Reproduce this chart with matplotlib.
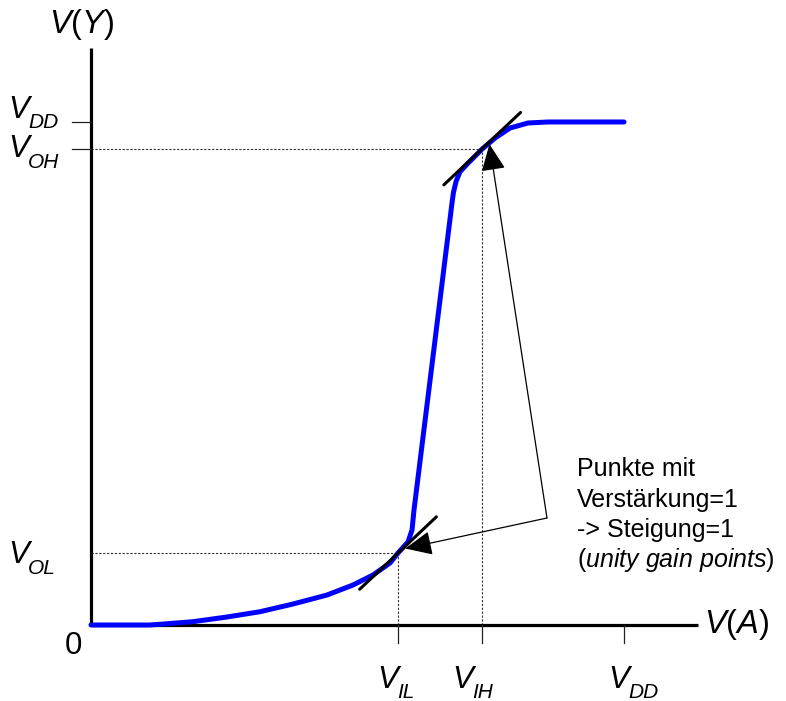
import matplotlib
matplotlib.use('Agg')
import matplotlib.pyplot as plt

plt.rcParams['font.family'] = ['Liberation Sans', 'DejaVu Sans']
plt.rcParams['mathtext.fontset'] = 'custom'
plt.rcParams['mathtext.it'] = 'Liberation Sans:italic'
plt.rcParams['mathtext.rm'] = 'Liberation Sans'

# ---------------- data (normalised voltages, V_DD = 1) ----------------
VDD = 1.0
VIL, VIH = 0.576, 0.734
VOL, VOH = 0.143, 0.947

vin = [0.0, 0.11, 0.1295, 0.1914, 0.2552, 0.3171, 0.3790, 0.4428, 0.4916,
       0.5291, 0.5610, 0.5760, 0.5947, 0.6023, 0.6060, 0.6773, 0.6800,
       0.6850, 0.6923, 0.7073, 0.7336, 0.7580, 0.7861, 0.8199, 0.8574, 1.0]
vout = [0.0, 0.0, 0.0014, 0.0066, 0.0159, 0.0264, 0.0417, 0.0596, 0.0795,
        0.0994, 0.1233, 0.1431, 0.1650, 0.1889, 0.2286, 0.8390, 0.8600,
        0.8820, 0.9010, 0.9180, 0.9460, 0.9680, 0.9880, 0.9980, 1.0, 1.0]

unity_points = [(VIL, VOL), (VIH, VOH)]
tangent_half = 0.072            # half extent of slope-1 tangent segments
note_corner = (0.8555, 0.2127)  # where the two annotation arrows start

x_ticks = [VIL, VIH, VDD]
y_ticks = [VOH, VDD]

# ---------------- figure ----------------
W, H = 786, 701
fig = plt.figure(figsize=(W / 100, H / 100), dpi=100)
ax = fig.add_axes([0, 0, 1, 1])
ax.set_xlim(-0.1707, 1.3039)
ax.set_ylim(-0.1511, 1.2425)
ax.axis('off')

# axes
ax.plot([0, 1.139], [0, 0], color='black', lw=2.3, solid_capstyle='butt', zorder=2)
ax.plot([0, 0], [0, 1.147], color='black', lw=2.3, solid_capstyle='butt', zorder=2)

# tick marks
for xt in x_ticks:
    ax.plot([xt, xt], [0, -0.036], color='#222222', lw=0.9, zorder=2)
for yt in y_ticks:
    ax.plot([-0.036, 0], [yt, yt], color='#222222', lw=0.9, zorder=2)

# dotted guide lines
for (px, py) in unity_points:
    ax.plot([0, px], [py, py], color='#333333', lw=0.8, dashes=(2, 1.5), zorder=1)
    ax.plot([px, px], [0, py], color='#333333', lw=0.8, dashes=(2, 1.5), zorder=1)

# transfer curve
ax.plot(vin, vout, color='#0000ff', lw=3.6, solid_capstyle='round',
        solid_joinstyle='round', zorder=3)

# tangent lines (slope 1)
for (px, py) in unity_points:
    ax.plot([px - tangent_half, px + tangent_half],
            [py - tangent_half, py + tangent_half],
            color='black', lw=2.2, solid_capstyle='round', zorder=4)

# annotation arrows
for (px, py) in unity_points:
    ax.annotate('', xy=(px + 0.0135, py + 0.009), xytext=note_corner,
                arrowprops=dict(arrowstyle='-|>,head_length=0.8,head_width=0.36',
                                mutation_scale=21, lw=0.9, color='black',
                                shrinkA=0, shrinkB=0), zorder=5)

# ---------------- labels ----------------
big = 22.5
small = 15


def fpx(x, y):
    return (x, H - y)


def vlabel(xl, base, sub):
    ax.annotate('V', xy=fpx(xl, base), xycoords='figure pixels',
                fontsize=big, style='italic', ha='left', va='baseline')
    ax.annotate(sub, xy=fpx(xl + 20, base + 10.5), xycoords='figure pixels',
                fontsize=small, style='italic', ha='left', va='baseline')


ax.annotate(r'$V$($Y$)', xy=fpx(49, 33), xycoords='figure pixels',
            fontsize=23.5, ha='left', va='baseline')
ax.annotate(r'$V$($A$)', xy=fpx(704, 633), xycoords='figure pixels',
            fontsize=23.5, ha='left', va='baseline')
ax.annotate('0', xy=fpx(65, 654), xycoords='figure pixels',
            fontsize=big, ha='left', va='baseline')

vlabel(8, 118, 'DD')
vlabel(8, 157, 'OH')
vlabel(8, 563, 'OL')
vlabel(377, 688, 'IL')
vlabel(452, 688, 'IH')
vlabel(608, 688, 'DD')

note_lines = ['Punkte mit', 'Verstärkung=1', '-> Steigung=1',
              r'($\mathit{unity\ gain\ points}$)']
for i, line in enumerate(note_lines):
    ax.annotate(line, xy=fpx(577, 476 + 30.5 * i), xycoords='figure pixels',
                fontsize=18, ha='left', va='baseline')

fig.savefig('out.png', dpi=100)
